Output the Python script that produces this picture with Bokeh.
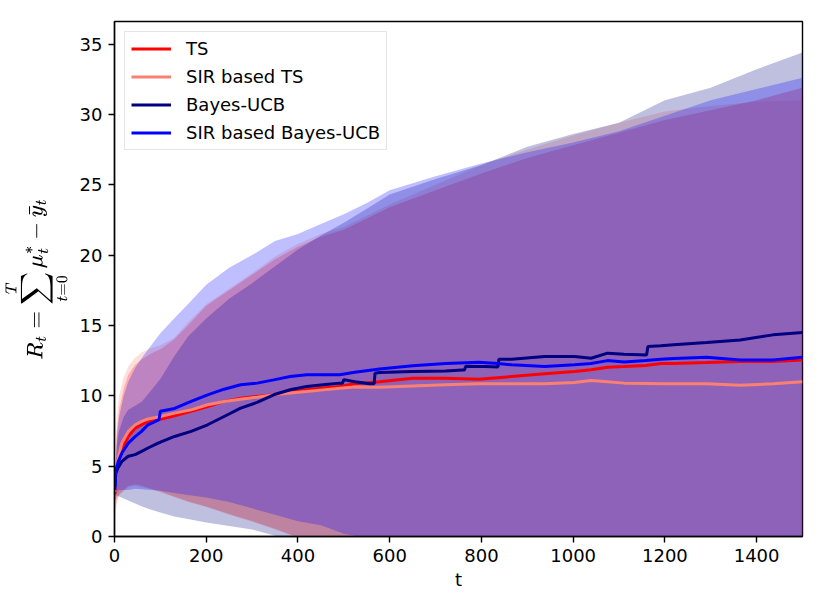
from bokeh.plotting import figure
from bokeh.models import Range1d, FixedTicker
from bokeh.embed import file_html
from bokeh.resources import INLINE

# ---- mean regret lines ----
ts_t = [1, 3, 8, 16, 30, 45, 59, 73, 95, 131, 167, 203, 239, 275, 311, 347, 383, 419, 455, 491,
        524, 578, 650, 722, 794, 866, 938, 1003, 1039, 1075, 1111, 1158, 1191, 1219, 1291, 1364, 1436, 1500]
ts_y = [3.0, 4.2, 5.3, 6.17, 7.1, 7.7, 7.94, 8.18, 8.3, 8.58, 8.89, 9.24, 9.6, 9.83, 9.95, 10.07, 10.25, 10.43, 10.55, 10.66,
        10.85, 11.0, 11.25, 11.25, 11.18, 11.37, 11.56, 11.72, 11.85, 12.03, 12.08, 12.15, 12.3, 12.3, 12.36, 12.43, 12.43, 12.55]

sirts_t = ts_t
sirts_y = [3.2, 4.04, 5.6, 6.64, 7.47, 7.94, 8.18, 8.35, 8.49, 8.77, 9.0, 9.36, 9.6, 9.76, 9.9, 10.07, 10.2, 10.3, 10.42, 10.54,
           10.62, 10.6, 10.7, 10.78, 10.85, 10.85, 10.85, 10.95, 11.09, 11.0, 10.9, 10.88, 10.85, 10.85, 10.85, 10.75, 10.85, 11.0]

bucb_t = [1, 3, 8, 16, 30, 45, 59, 73, 95, 100, 131, 167, 203, 239, 275, 311, 347, 383, 419, 455, 491, 497, 500, 524,
          556, 566, 568, 578, 650, 722, 758, 763, 766, 794, 809, 836, 838, 866, 938, 1003, 1039, 1075, 1111, 1160, 1163,
          1191, 1219, 1291, 1364, 1436, 1500]
bucb_y = [3.5, 4.5, 4.9, 5.34, 5.7, 5.82, 6.05, 6.29, 6.64, 6.7, 7.11, 7.47, 7.94, 8.53, 9.12, 9.53, 10.07, 10.43, 10.66, 10.78, 10.9, 10.9, 11.15, 11.0,
          10.85, 10.85, 11.6, 11.66, 11.73, 11.77, 11.84, 11.84, 12.1, 12.08, 12.08, 12.05, 12.6, 12.6, 12.79, 12.79, 12.67, 13.03, 12.95, 12.9, 13.5,
          13.55, 13.62, 13.78, 13.97, 14.33, 14.49]

sirbucb_t = [1, 3, 8, 16, 30, 45, 59, 73, 97, 100, 131, 167, 203, 239, 275, 311, 347, 383, 419, 455, 491, 524, 578, 650,
             722, 794, 837, 866, 938, 1003, 1039, 1075, 1111, 1158, 1191, 1219, 1291, 1364, 1436, 1500]
sirbucb_y = [3.3, 4.75, 5.3, 5.93, 6.64, 7.1, 7.47, 7.94, 8.3, 8.9, 9.1, 9.6, 10.07, 10.47, 10.78, 10.9, 11.13, 11.37, 11.49, 11.49, 11.49, 11.68, 11.9, 12.13,
             12.3, 12.39, 12.3, 12.2, 12.08, 12.2, 12.3, 12.5, 12.4, 12.5, 12.6, 12.65, 12.74, 12.55, 12.55, 12.74]

# ---- shaded bands (lower / upper) ----
band_t = [1, 5, 10, 20, 30, 45, 60, 80, 100, 130, 160, 200, 250, 300, 350, 400, 450, 500, 550, 600,
          700, 800, 900, 1000, 1100, 1200, 1300, 1400, 1500]
ts_lo = [1.8, 2.6, 3.0, 3.3, 3.6, 3.7, 3.6, 3.4, 3.2, 2.85, 2.5, 2.13, 1.6, 1.1, 0.55, -0.05, -0.5, -0.9, -1.3, -1.7,
         -2.3, -3.0, -3.6, -4.0, -4.5, -5.0, -5.4, -5.8, -6.2]
ts_hi = [3.2, 7.5, 9.0, 10.5, 11.5, 12.2, 12.6, 13.0, 13.3, 14.0, 15.0, 16.4, 17.5, 18.6, 19.7, 20.6, 21.3, 21.8, 22.6, 23.4,
         24.6, 25.8, 26.9, 27.8, 28.7, 29.6, 30.3, 31.0, 31.9]
sirts_lo = [1.3, 2.4, 2.9, 3.2, 3.5, 3.6, 3.5, 3.35, 3.15, 2.8, 2.45, 2.1, 1.55, 1.05, 0.5, -0.1, -0.6, -1.0, -1.4, -1.8,
            -2.5, -3.2, -3.8, -4.3, -4.8, -5.3, -5.7, -6.0, -6.3]
sirts_hi = [3.4, 8.5, 10.0, 11.3, 12.1, 12.7, 13.1, 13.4, 13.6, 14.1, 15.2, 16.5, 17.6, 18.7, 19.9, 20.8, 21.5, 22.0, 22.8, 23.6,
            25.0, 26.4, 27.5, 28.5, 29.4, 30.2, 30.6, 30.9, 31.0]
bucb_lo = [2.5, 2.9, 2.84, 2.7, 2.55, 2.35, 2.13, 1.9, 1.7, 1.42, 1.25, 0.99, 0.75, 0.5, 0.05, -0.4, -0.9, -1.3, -1.7, -2.0,
           -2.5, -2.9, -3.3, -3.6, -3.9, -4.2, -4.5, -4.8, -5.1]
bucb_hi = [3.8, 6.5, 7.5, 8.5, 9.0, 9.3, 9.6, 10.4, 11.2, 12.8, 14.2, 15.5, 16.9, 18.0, 19.2, 20.4, 21.4, 22.3, 23.3, 24.3,
           25.4, 26.4, 27.7, 28.6, 29.4, 31.0, 31.9, 33.2, 34.4]
sirbucb_lo = [2.8, 3.2, 3.3, 3.3, 3.3, 3.4, 3.35, 3.3, 3.25, 3.1, 2.95, 2.77, 2.45, 2.0, 1.55, 1.09, 0.8, 0.2, -0.1, -0.6,
              -1.4, -2.0, -2.7, -3.3, -3.8, -4.5, -5.2, -6.0, -6.8]
sirbucb_hi = [3.5, 7.0, 8.5, 10.0, 11.0, 12.0, 12.7, 13.6, 14.45, 15.5, 16.5, 17.9, 19.1, 20.0, 21.0, 21.5, 22.2, 22.9, 23.7, 24.6,
              25.6, 26.5, 27.3, 28.0, 28.8, 29.9, 31.0, 31.8, 32.6]

labels = ["TS", "SIR based TS", "Bayes-UCB", "SIR based Bayes-UCB"]
colors = ["red", "salmon", "navy", "blue"]
x_ticks = [0, 200, 400, 600, 800, 1000, 1200, 1400]
y_ticks = [0, 5, 10, 15, 20, 25, 30, 35]

FONT = "DejaVu Sans"

p = figure(width=814, height=592, output_backend="svg", toolbar_location=None,
           x_range=Range1d(0, 1500), y_range=Range1d(0, 36.6),
           min_border_left=108, min_border_right=12, min_border_top=21, min_border_bottom=55)
p.background_fill_color = "white"
p.border_fill_color = "white"
p.grid.visible = False
p.outline_line_color = "black"
p.outline_line_width = 1.4

bands = [(ts_lo, ts_hi), (sirts_lo, sirts_hi), (bucb_lo, bucb_hi), (sirbucb_lo, sirbucb_hi)]
for (lo, hi), c in zip(bands, colors):
    p.varea(x=band_t, y1=lo, y2=hi, fill_color=c, fill_alpha=0.25)

lines = [(ts_t, ts_y), (sirts_t, sirts_y), (bucb_t, bucb_y), (sirbucb_t, sirbucb_y)]
for (tx, ty), c, lab in zip(lines, colors, labels):
    p.line(tx, ty, line_color=c, line_width=3, legend_label=lab)

for ax in (p.xaxis[0], p.yaxis[0]):
    ax.axis_line_color = "black"
    ax.axis_line_width = 1.4
    ax.major_tick_line_width = 1.4
    ax.major_tick_out = 6
    ax.major_tick_in = 0
    ax.minor_tick_out = 0
    ax.minor_tick_in = 0
    ax.major_label_text_font = FONT
    ax.major_label_text_font_size = "18px"
    ax.major_label_text_color = "black"
    ax.axis_label_text_font = FONT
    ax.axis_label_text_font_size = "18px"
    ax.axis_label_text_font_style = "normal"
    ax.axis_label_text_color = "black"
    ax.major_label_standoff = 6

p.xaxis.ticker = FixedTicker(ticks=x_ticks)
p.yaxis.ticker = FixedTicker(ticks=y_ticks)
p.xaxis.axis_label = "t"
p.xaxis.axis_label_standoff = 4
p.yaxis.axis_label = r"$$R_t = \sum_{t=0}^{T} \mu^*_t - \bar{y}_t$$"
p.yaxis.axis_label_standoff = 6

lg = p.legend[0]
lg.location = "top_left"
lg.margin = 10
lg.padding = 6
lg.spacing = 7
lg.glyph_width = 40
lg.glyph_height = 21
lg.label_height = 21
lg.label_standoff = 15
lg.label_text_font = FONT
lg.label_text_font_size = "18px"
lg.label_text_color = "black"
lg.border_line_color = "#cccccc"
lg.border_line_width = 1.4
lg.background_fill_alpha = 0.8

open("out.html", "w").write(file_html(p, INLINE))
